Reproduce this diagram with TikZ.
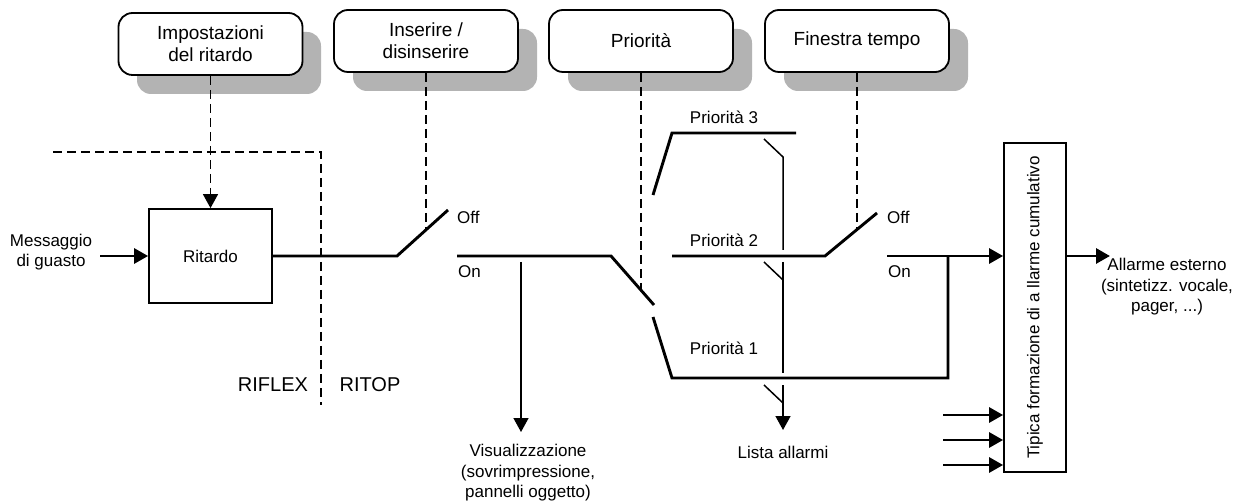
\documentclass[tikz,border=0pt]{standalone}
\usepackage{fontspec}
\setmainfont{Liberation Sans}
\usetikzlibrary{arrows.meta}
\definecolor{shadowgray}{RGB}{179,179,179}
\begin{document}
\begin{tikzpicture}[x=1pt,y=-1pt,
  thickline/.style={line width=2.9pt},
  thinline/.style={line width=1.5pt},
  dashline/.style={line width=1.5pt, dash pattern=on 9pt off 5pt},
  arr/.style={-{Triangle[length=14pt,width=15pt]}},
  topbox/.style={draw, line width=1.8pt, rounded corners=14pt, minimum width=184pt, minimum height=62pt, fill=white, align=center, inner sep=0pt, font=\fontsize{19}{22}\selectfont},
  shadowbox/.style={fill=shadowgray, rounded corners=14pt},
  lbl/.style={font=\fontsize{17}{20.5}\selectfont, align=center, inner sep=0pt},
  biglbl/.style={font=\fontsize{20}{24}\selectfont, inner sep=0pt},
  plainbox/.style={draw, line width=1.8pt, inner sep=0pt},
]
\useasboundingbox (0,0) rectangle (1239,502);

% shadows
\fill[shadowbox] (137,32) rectangle (321,94);
\fill[shadowbox] (353,29) rectangle (537,91);
\fill[shadowbox] (568,29) rectangle (752,91);
\fill[shadowbox] (784,29) rectangle (968,91);

% top boxes
\node[topbox] (b1) at (210.5,44) {Impostazioni\\del ritardo};
\node[topbox] (b2) at (426,41) {Inserire /\\disinserire};
\node[topbox] (b3) at (641,41) {Priorità};
\node[topbox] (b4) at (857,41) {Finestra tempo};

% delay box
\node[plainbox, minimum width=123pt, minimum height=94pt, font=\fontsize{17}{20}\selectfont] (rit) at (210.5,256) {Ritardo};
\node[lbl] (msg) at (51,252) {Messaggio\\di guasto};
\coordinate (msgend) at (100,256);
\draw[thickline, arr] (msgend) -- (rit.west);
\draw[dashline, arr] (b1.south) -- (rit.north);

% RIFLEX / RITOP boundary
\coordinate (bd1) at (53,152);
\coordinate (bd2) at (321,152);
\coordinate (bd3) at (321,405);
\draw[dashline] (bd1) -- (bd2) -- (bd3);
\node[biglbl] (riflex) at (273,385) {RIFLEX};
\node[biglbl] (ritop) at (370,385) {RITOP};

% switch 1
\coordinate (s1a) at (397,256);
\coordinate (s1b) at (448,210);
\coordinate (s1d) at (426,229);
\draw[thickline] (rit.east) -- (s1a) -- (s1b);
\draw[dashline] (b2.south) -- (s1d);
\node[lbl, anchor=west] (off1) at (457,217) {Off};
\node[lbl, anchor=west] (on1) at (458,272) {On};

% on line and priority switch
\coordinate (on1a) at (457,256);
\coordinate (on1b) at (611,256);
\coordinate (pswa) at (654,305);
\draw[thickline] (on1a) -- (on1b) -- (pswa);
\coordinate (psd) at (641,289);
\draw[dashline] (b3.south) -- (psd);

% visualizzazione
\coordinate (vis0) at (521,262);
\coordinate (vis1) at (521,432);
\node[lbl] (vis) at (528,473) {Visualizzazione\\(sovrimpressione,\\pannelli oggetto)};
\draw[thinline, arr] (vis0) -- (vis1);

% priority 1
\coordinate (p1a) at (653,317);
\coordinate (p1b) at (672,378);
\coordinate (p1c) at (948,378);
\coordinate (jn) at (948,256);
\draw[thickline] (p1a) -- (p1b) -- (p1c) -- (jn);
\node[lbl] (lp1) at (724,348) {Priorità 1};

% priority 3
\coordinate (p3a) at (653,195);
\coordinate (p3b) at (672,133);
\coordinate (p3c) at (796,133);
\draw[thickline] (p3a) -- (p3b) -- (p3c);
\node[lbl] (lp3) at (724,117) {Priorità 3};

% priority 2 and switch 2
\coordinate (p2a) at (672,256);
\coordinate (s2a) at (825,256);
\coordinate (s2b) at (877,213);
\coordinate (s2d) at (857,230);
\draw[thickline] (p2a) -- (s2a) -- (s2b);
\draw[dashline] (b4.south) -- (s2d);
\node[lbl] (lp2) at (724,240) {Priorità 2};
\node[lbl, anchor=west] (off2) at (887,217) {Off};
\node[lbl, anchor=west] (on2) at (888,272) {On};

% cumulative alarm box
\node[plainbox, minimum width=62pt, minimum height=329pt] (cum) at (1035,307.5) {};
\node[lbl, rotate=90] (cumtxt) at (cum.center) {Tipica formazione di a llarme cumulativo};
\coordinate (out2) at (887,256);
\draw[thickline, arr] (out2) -- (cum.west |- out2);
\coordinate (in1) at (943,415);
\coordinate (in2) at (943,440);
\coordinate (in3) at (943,465);
\draw[thickline, arr] (in1) -- (cum.west |- in1);
\draw[thickline, arr] (in2) -- (cum.west |- in2);
\draw[thickline, arr] (in3) -- (cum.west |- in3);
\coordinate (outend) at (1110,256);
\draw[thickline, arr] (cum.east |- outend) -- (outend);
\node[lbl] (ext) at (1167,287) {Allarme esterno\\(sintetizz. vocale,\\pager, ...)};

% alarm list taps
\coordinate (t3a) at (764,139);
\coordinate (t3b) at (783,157);
\coordinate (t3c) at (783,250);
\coordinate (t2a) at (764,262);
\coordinate (t2s) at (783,262);
\coordinate (t2b) at (783,280);
\coordinate (t2c) at (783,373);
\coordinate (t1a) at (764,385);
\coordinate (t1s) at (783,385);
\coordinate (t1b) at (783,403);
\coordinate (t1c) at (783,430);
\draw[thinline] (t3a) -- (t3b) -- (t3c);
\draw[thinline] (t2a) -- (t2b);
\draw[thinline] (t2s) -- (t2c);
\draw[thinline] (t1a) -- (t1b);
\draw[thinline, arr] (t1s) -- (t1c);
\node[lbl] (lista) at (783,452) {Lista allarmi};
\end{tikzpicture}
\end{document}
